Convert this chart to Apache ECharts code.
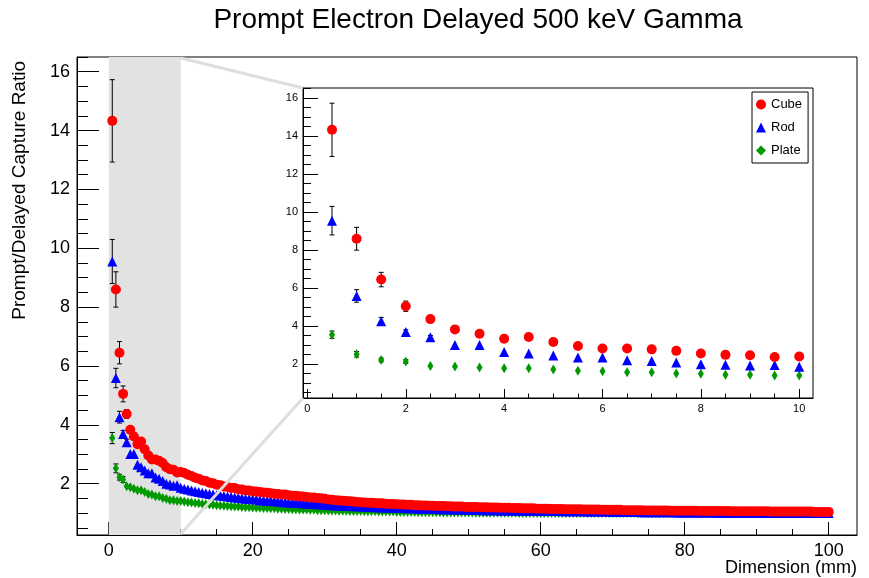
<!DOCTYPE html>
<html><head><meta charset="utf-8">
<script src="https://cdn.jsdelivr.net/npm/echarts@6/dist/echarts.min.js"></script>
<style>html,body{margin:0;padding:0;background:#fff}#c{width:869px;height:578px}</style>
</head><body><div id="c"></div>
<script>
// Dimension (mm)
const dims = [
0.5,1,1.5,2,2.5,3,3.5,4,4.5,5,5.5,6,6.5,7,7.5,8,8.5,9,9.5,10,
10.5,11,11.5,12,12.5,13,13.5,14,14.5,15,15.5,16,16.5,17,17.5,18,18.5,19,19.5,20,
20.5,21,21.5,22,22.5,23,23.5,24,24.5,25,25.5,26,26.5,27,27.5,28,28.5,29,29.5,30,
30.5,31,31.5,32,32.5,33,33.5,34,34.5,35,35.5,36,36.5,37,37.5,38,38.5,39,39.5,40,
40.5,41,41.5,42,42.5,43,43.5,44,44.5,45,45.5,46,46.5,47,47.5,48,48.5,49,49.5,50,
50.5,51,51.5,52,52.5,53,53.5,54,54.5,55,55.5,56,56.5,57,57.5,58,58.5,59,59.5,60,
60.5,61,61.5,62,62.5,63,63.5,64,64.5,65,65.5,66,66.5,67,67.5,68,68.5,69,69.5,70,
70.5,71,71.5,72,72.5,73,73.5,74,74.5,75,75.5,76,76.5,77,77.5,78,78.5,79,79.5,80,
80.5,81,81.5,82,82.5,83,83.5,84,84.5,85,85.5,86,86.5,87,87.5,88,88.5,89,89.5,90,
90.5,91,91.5,92,92.5,93,93.5,94,94.5,95,95.5,96,96.5,97,97.5,98,98.5,99,99.5,100];

const cube = [
14.33,8.60,6.45,5.05,4.37,3.83,3.60,3.34,3.43,3.17,2.96,2.82,2.82,2.78,2.70,2.56,2.49,2.47,2.38,2.40,
2.36,2.30,2.26,2.20,2.17,2.11,2.09,2.03,2.01,1.96,1.95,1.90,1.89,1.85,1.85,1.81,1.80,1.77,1.77,1.74,
1.73,1.72,1.70,1.69,1.67,1.66,1.65,1.63,1.63,1.61,1.59,1.59,1.57,1.56,1.55,1.53,1.53,1.51,1.50,1.49,
1.46,1.45,1.44,1.43,1.42,1.41,1.40,1.39,1.38,1.37,1.36,1.35,1.35,1.34,1.33,1.33,1.32,1.31,1.31,1.30,
1.29,1.29,1.28,1.28,1.27,1.27,1.26,1.26,1.25,1.25,1.24,1.24,1.24,1.23,1.23,1.22,1.22,1.22,1.21,1.21,
1.21,1.21,1.20,1.20,1.20,1.19,1.19,1.19,1.18,1.18,1.18,1.17,1.17,1.17,1.16,1.16,1.16,1.16,1.15,1.15,
1.15,1.15,1.14,1.14,1.14,1.14,1.13,1.13,1.13,1.13,1.13,1.12,1.12,1.12,1.12,1.12,1.11,1.11,1.11,1.11,
1.11,1.11,1.10,1.10,1.10,1.10,1.10,1.10,1.09,1.09,1.09,1.09,1.09,1.09,1.09,1.08,1.08,1.08,1.08,1.08,
1.08,1.08,1.08,1.07,1.07,1.07,1.07,1.07,1.07,1.07,1.07,1.07,1.06,1.06,1.06,1.06,1.06,1.06,1.06,1.06,
1.06,1.06,1.06,1.05,1.05,1.05,1.05,1.05,1.05,1.05,1.05,1.05,1.05,1.05,1.05,1.04,1.04,1.04,1.04,1.04];

const rod = [
9.55,5.59,4.26,3.69,3.41,3.01,3.01,2.64,2.56,2.45,2.35,2.35,2.21,2.17,2.09,2.00,1.97,1.93,1.95,1.86,
1.83,1.80,1.77,1.74,1.72,1.69,1.67,1.65,1.63,1.61,1.60,1.58,1.56,1.55,1.53,1.52,1.50,1.49,1.48,1.47,
1.46,1.44,1.43,1.42,1.41,1.40,1.39,1.38,1.37,1.36,1.35,1.35,1.34,1.33,1.32,1.31,1.31,1.30,1.29,1.28,
1.28,1.27,1.26,1.26,1.25,1.24,1.24,1.23,1.23,1.22,1.22,1.21,1.21,1.20,1.20,1.19,1.19,1.18,1.18,1.17,
1.17,1.17,1.16,1.16,1.16,1.15,1.15,1.15,1.14,1.14,1.14,1.13,1.13,1.13,1.13,1.12,1.12,1.12,1.12,1.11,
1.11,1.11,1.11,1.10,1.10,1.10,1.10,1.10,1.09,1.09,1.09,1.09,1.09,1.08,1.08,1.08,1.08,1.08,1.08,1.07,
1.07,1.07,1.07,1.07,1.07,1.06,1.06,1.06,1.06,1.06,1.06,1.06,1.05,1.05,1.05,1.05,1.05,1.05,1.05,1.04,
1.04,1.04,1.04,1.04,1.04,1.04,1.04,1.03,1.03,1.03,1.03,1.03,1.03,1.03,1.03,1.03,1.03,1.02,1.02,1.02,
1.02,1.02,1.02,1.02,1.02,1.02,1.02,1.02,1.01,1.01,1.01,1.01,1.01,1.01,1.01,1.01,1.01,1.01,1.01,1.01,
1.01,1.00,1.00,1.00,1.00,1.00,1.00,1.00,1.00,1.00,1.00,1.00,1.00,1.00,1.00,1.00,1.00,1.00,1.00,1.00];

const plate = [
3.55,2.52,2.22,2.14,1.91,1.88,1.83,1.78,1.78,1.72,1.65,1.63,1.57,1.57,1.51,1.49,1.44,1.44,1.41,1.41,
1.39,1.37,1.36,1.34,1.33,1.31,1.30,1.29,1.28,1.27,1.26,1.25,1.24,1.23,1.22,1.22,1.21,1.20,1.20,1.19,
1.18,1.18,1.17,1.17,1.16,1.16,1.15,1.15,1.14,1.14,1.13,1.13,1.12,1.12,1.12,1.11,1.11,1.10,1.10,1.10,
1.09,1.09,1.09,1.08,1.08,1.08,1.07,1.07,1.07,1.07,1.06,1.06,1.06,1.06,1.05,1.05,1.05,1.05,1.05,1.04,
1.04,1.04,1.04,1.04,1.04,1.03,1.03,1.03,1.03,1.03,1.03,1.03,1.02,1.02,1.02,1.02,1.02,1.02,1.02,1.02,
1.02,1.01,1.01,1.01,1.01,1.01,1.01,1.01,1.01,1.01,1.01,1.01,1.01,1.00,1.00,1.00,1.00,1.00,1.00,1.00,
1.00,1.00,1.00,1.00,1.00,1.00,1.00,1.00,1.00,1.00,1.00,1.00,1.00,1.00,1.00,1.00,1.00,1.00,1.00,1.00,
1.00,1.00,1.00,1.00,1.00,1.00,0.99,1.00,1.00,1.00,1.00,1.00,0.99,1.00,1.00,1.00,1.00,1.00,1.00,0.99,
1.00,1.00,1.00,0.99,1.00,1.00,1.00,1.00,0.99,1.00,1.00,1.00,1.00,0.99,1.00,1.00,1.00,0.99,1.00,1.00,
1.00,0.99,1.00,1.00,1.00,0.99,1.00,1.00,1.00,0.99,1.00,1.00,0.99,1.00,1.00,1.00,0.99,1.00,1.00,0.99];

// symmetric errors of the first points (others are hidden behind markers)
const cubeErr = [1.40,0.60,0.38,0.27,0.15,0.12,0.10,0.10];
const rodErr = [0.75,0.33,0.20,0.12,0.10];
const plateErr = [0.19,0.15,0.10,0.10];

const insetN = 20;
const mainXTicks = [0,20,40,60,80,100];
const mainYTicks = [2,4,6,8,10,12,14,16];
const insetXTicks = [0,2,4,6,8,10];
const insetYTicks = [2,4,6,8,10,12,14,16];

const FONT = "'Liberation Sans', Arial, Helvetica, sans-serif";
const chart = echarts.init(document.getElementById('c'), null, {renderer:'canvas'});

function minorOf(majors, step, lo, hi){
  const out = [];
  for (let v = Math.ceil(lo/step)*step; v <= hi + 1e-9; v += step){
    const r = Math.round(v*1000)/1000;
    if (!majors.some(m => Math.abs(m - r) < 1e-6)) out.push(r);
  }
  return out;
}

const MX = [-4.4, 103.93], MY = [0.255, 16.5];
const IX = [-0.09, 10.28], IY = [0.22, 16.53];

function axisPair(kind, grid, range, majors, minorStep, majLen, minLen, fontSize, labelMargin){
  const base = {
    type:'value', gridIndex:grid, min:range[0], max:range[1],
    position: kind === 'x' ? 'bottom' : 'left',
    splitLine:{show:false}, offset:0
  };
  return [
    Object.assign({}, base, {
      axisLine:{show:true, onZero:false, lineStyle:{color:'#000', width:1}},
      axisTick:{show:true, inside:true, length:majLen, customValues:majors, lineStyle:{color:'#000', width:1}},
      axisLabel:{show:true, customValues:majors, color:'#000', fontSize:fontSize, fontFamily:FONT, margin:labelMargin}
    }),
    Object.assign({}, base, {
      axisLine:{show:false, onZero:false},
      axisTick:{show:true, inside:true, length:minLen, customValues:minorOf(majors, minorStep, range[0], range[1]), lineStyle:{color:'#000', width:1}},
      axisLabel:{show:false}
    })
  ];
}

const xAxes = [].concat(
  axisPair('x', 0, MX, mainXTicks, 5, 13, 6, 18, 7),
  axisPair('x', 1, IX, insetXTicks, 0.5, 9, 4.5, 11, 5)
);
const yAxes = [].concat(
  axisPair('y', 0, MY, mainYTicks, 0.5, 22, 11, 18, 7),
  axisPair('y', 1, IY, insetYTicks, 0.5, 15, 8, 11, 5)
);

function errRender(params, api){
  const x = api.value(0), lo = api.value(1), hi = api.value(2);
  const p1 = api.coord([x, hi]), p2 = api.coord([x, lo]);
  const c = 2.5;
  const st = {stroke:'#000', lineWidth:1};
  return {type:'group', children:[
    {type:'line', shape:{x1:p1[0], y1:p1[1], x2:p2[0], y2:p2[1]}, style:st},
    {type:'line', shape:{x1:p1[0]-c, y1:p1[1], x2:p1[0]+c, y2:p1[1]}, style:st},
    {type:'line', shape:{x1:p2[0]-c, y1:p2[1], x2:p2[0]+c, y2:p2[1]}, style:st}
  ]};
}
function errData(vals, errs){
  return errs.map((e, i) => [dims[i], vals[i]-e, vals[i]+e]);
}
function pts(vals, n){
  const out = [];
  for (let i = 0; i < n; i++) out.push([dims[i], vals[i]]);
  return out;
}

const defs = [
  {name:'Cube', vals:cube, errs:cubeErr, color:'#ff0000', symbol:'circle', size:10},
  {name:'Rod', vals:rod, errs:rodErr, color:'#0000ff', symbol:'triangle', size:10},
  {name:'Plate', vals:plate, errs:plateErr, color:'#009900', symbol:'diamond', size:[6,10]}
];

const series = [];
// shaded band for the zoom region
series.push({
  type:'scatter', xAxisIndex:0, yAxisIndex:0, data:[], z:0, silent:true,
  markArea:{silent:true, itemStyle:{color:'#e2e2e2'}, data:[[{xAxis:0},{xAxis:10}]]}
});
[[0, 0, dims.length], [2, 2, insetN]].forEach(([xi, yi, n]) => {
  defs.forEach(d => {
    series.push({
      type:'custom', name:d.name + ' err', xAxisIndex:xi, yAxisIndex:yi, z:3, silent:true,
      renderItem:errRender, data:errData(d.vals, d.errs), encode:{x:0, y:[1,2]}
    });
  });
  defs.slice().reverse().forEach(d => {
    series.push({
      type:'scatter', name:d.name, xAxisIndex:xi, yAxisIndex:yi, z:4, silent:true,
      symbol:d.symbol, symbolSize:d.size, itemStyle:{color:d.color, opacity:1},
      data:pts(d.vals, n), animation:false
    });
  });
});

chart.setOption({
  animation:false,
  backgroundColor:'#fff',
  grid:[
    {left:77, top:57, width:780, height:478, show:true, borderColor:'#000', borderWidth:1, backgroundColor:'transparent', containLabel:false},
    {left:303, top:88, width:510, height:310, show:true, borderColor:'#000', borderWidth:1, backgroundColor:'#fff', containLabel:false}
  ],
  xAxis:xAxes,
  yAxis:yAxes,
  legend:{
    data:[{name:'Cube', icon:'circle'},{name:'Rod', icon:'triangle'},{name:'Plate', icon:'diamond'}],
    orient:'vertical', left:752, top:92, itemWidth:10, itemHeight:10, itemGap:10,
    padding:[6,6,6,4], backgroundColor:'#fff', borderColor:'#000', borderWidth:1,
    textStyle:{color:'#000', fontSize:13, fontFamily:FONT}, selectedMode:false
  },
  series:series
});

const a = chart.convertToPixel({gridIndex:0}, [10, MY[1]]);
const b = chart.convertToPixel({gridIndex:0}, [10, MY[0]]);
const c1 = chart.convertToPixel({gridIndex:1}, [IX[0], IY[1]]);
const c2 = chart.convertToPixel({gridIndex:1}, [IX[0], IY[0]]);

chart.setOption({
  graphic:[
    {type:'line', z:10, silent:true, shape:{x1:a[0], y1:a[1]+1, x2:c1[0], y2:c1[1]}, style:{stroke:'#dedede', lineWidth:3}},
    {type:'line', z:10, silent:true, shape:{x1:b[0], y1:b[1]-1, x2:c2[0], y2:c2[1]}, style:{stroke:'#dedede', lineWidth:3}},
    {type:'text', silent:true, x:478, y:20, style:{text:'Prompt Electron Delayed 500 keV Gamma', fill:'#000', font:'28px ' + FONT, textAlign:'center', textVerticalAlign:'middle'}},
    {type:'text', silent:true, x:20, y:61, rotation:Math.PI/2, style:{text:'Prompt/Delayed Capture Ratio', fill:'#000', font:'19px ' + FONT, textAlign:'right', textVerticalAlign:'middle'}},
    {type:'text', silent:true, x:857, y:568, style:{text:'Dimension (mm)', fill:'#000', font:'18px ' + FONT, textAlign:'right', textVerticalAlign:'middle'}}
  ]
});
</script>
</body></html>
